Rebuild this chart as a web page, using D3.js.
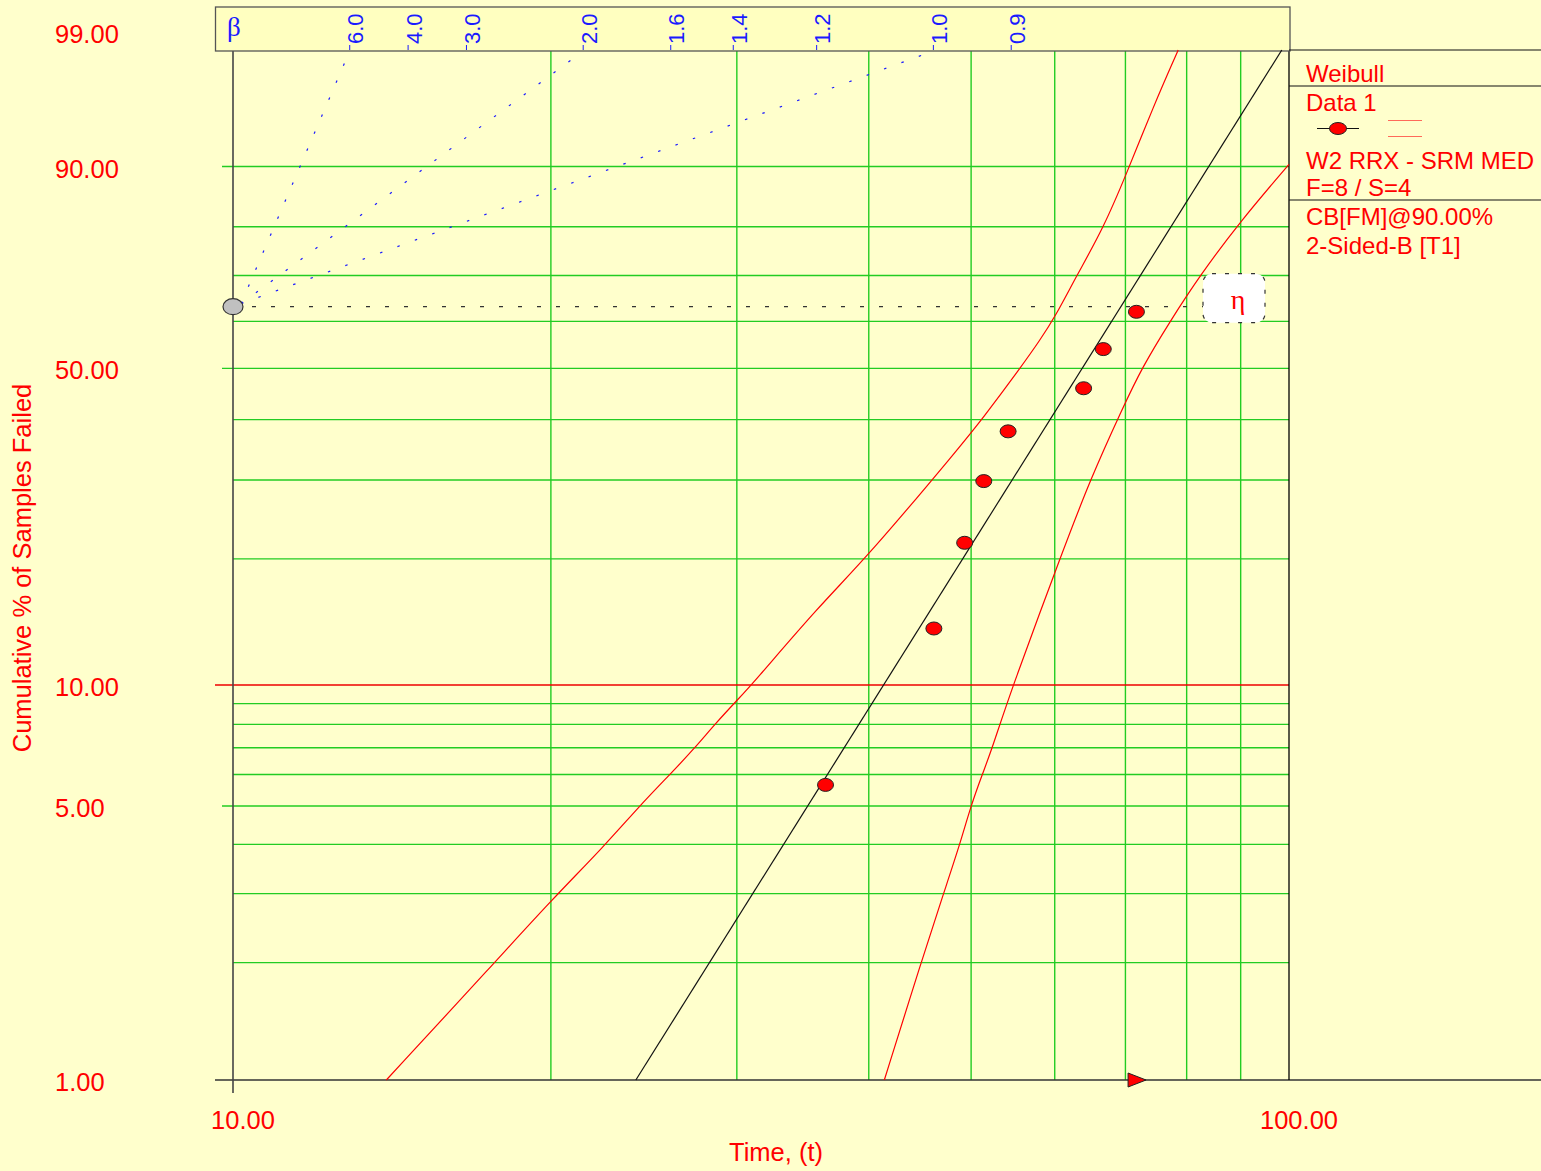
<!DOCTYPE html>
<html>
<head>
<meta charset="utf-8">
<script src="https://cdn.jsdelivr.net/npm/d3@7"></script>
<style>
  body { margin: 0; background: #ffffcc; }
  text { font-family: "Liberation Sans", Arial, sans-serif; }
</style>
</head>
<body>
<div id="weibull_plot"></div>
<script>
// data
const failureTimes = [36.4, 46.1, 49.3, 51.4, 54.2, 63.9, 66.7, 71.7];
const failurePct = [5.65, 13.71, 21.77, 29.84, 37.90, 45.97, 54.03, 62.10];
const suspensionTimes = [71.8];

const upperTimes = [13.97, 17.69, 19.98, 22.49, 24.26, 25.93, 27.35, 28.60, 30.03, 30.98, 35.88, 39.94, 48.82, 51.17, 55.64, 58.12, 60.05, 62.95, 66.70, 70.20, 74.38, 78.54];
const upperPct = [1.0, 2.0, 2.87, 3.97, 5.0, 6.0, 6.97, 8.01, 9.19, 10.0, 15.5, 20.3, 35.3, 40.0, 50.0, 56.0, 61.0, 70.0, 79.7, 89.05, 96.26, 99.0];
const lowerTimes = [41.38, 44.83, 47.08, 48.79, 49.97, 51.23, 52.38, 54.43, 60.70, 64.79, 69.68, 72.52, 77.14, 82.35, 89.87, 100];
const lowerPct = [1.0, 2.0, 3.0, 4.0, 5.0, 6.0, 7.0, 9.56, 20.06, 30.0, 42.4, 50.0, 60.0, 70.0, 80.96, 90.3];

const beta = 4.35;
const eta = 69.3;

const xTicks = [10, 100];
const xGrid = [20, 30, 40, 50, 60, 70, 80, 90];
const yTicks = [99, 90, 50, 10, 5, 1];
const yGrid = [2, 3, 4, 5, 6, 7, 8, 9, 20, 30, 40, 50, 60, 70, 80, 90];
const betaTicks = [6.0, 4.0, 3.0, 2.0, 1.6, 1.4, 1.2, 1.0, 0.9];
const betaLines = [6.0, 2.0, 1.0];

const legendTitle = ["Weibull", "Data 1"];
const legendInfo = ["W2 RRX - SRM MED", "F=8 / S=4", "CB[FM]@90.00%", "2-Sided-B [T1]"];

let config = {
  div: '#weibull_plot',
  width: 1541,
  height: 1171,
  left: 233,
  right: 1289,
  top: 50,
  bottom: 1080
};

const wb = p => Math.log(-Math.log(1 - p / 100));

const svg = d3.select(config.div).append('svg')
  .attr('width', config.width)
  .attr('height', config.height);

svg.append('rect')
  .attr('width', config.width)
  .attr('height', config.height)
  .attr('fill', '#ffffcc');

const x = d3.scaleLog().domain([10, 100]).range([config.left, config.right]);
const y = d3.scaleLinear().domain([wb(1), wb(99)]).range([config.bottom, config.top]);
const yp = p => y(wb(p));

// green grid
svg.append('g').selectAll('line')
  .data(xGrid)
  .join('line')
  .attr('x1', d => x(d)).attr('x2', d => x(d))
  .attr('y1', config.top).attr('y2', config.bottom)
  .attr('stroke', '#22cc22').attr('stroke-width', 1.4);

svg.append('g').selectAll('line')
  .data(yGrid)
  .join('line')
  .attr('x1', d => yTicks.includes(d) ? config.left - 11 : config.left)
  .attr('x2', config.right)
  .attr('y1', d => yp(d)).attr('y2', d => yp(d))
  .attr('stroke', '#22cc22').attr('stroke-width', 1.4);

// 10% line in red
svg.append('line')
  .attr('x1', config.left - 18).attr('x2', config.right)
  .attr('y1', yp(10)).attr('y2', yp(10))
  .attr('stroke', '#ee0000').attr('stroke-width', 1.3);

// frame
svg.append('line')
  .attr('x1', config.left - 18).attr('x2', config.width)
  .attr('y1', config.bottom).attr('y2', config.bottom)
  .attr('stroke', '#333').attr('stroke-width', 1.3);
svg.append('line')
  .attr('x1', config.left).attr('x2', config.left)
  .attr('y1', config.top).attr('y2', config.bottom + 13)
  .attr('stroke', '#444').attr('stroke-width', 1.6);
svg.append('line')
  .attr('x1', config.right).attr('x2', config.right)
  .attr('y1', config.top).attr('y2', config.bottom)
  .attr('stroke', '#000').attr('stroke-width', 1.3);

// beta box
svg.append('rect')
  .attr('x', 215.5).attr('y', 7)
  .attr('width', config.right - 215.5 + 1).attr('height', config.top - 7 + 1)
  .attr('fill', '#ffffc0')
  .attr('stroke', '#555').attr('stroke-width', 1.3);

svg.append('text')
  .attr('x', 227).attr('y', 36)
  .style('font-family', '"Liberation Serif", "DejaVu Serif", serif')
  .attr('font-size', 27)
  .attr('fill', '#1a1aff')
  .text('β');

const betaX = b => x(10 * Math.exp(wb(99) / b));

svg.append('g').selectAll('line')
  .data(betaTicks)
  .join('line')
  .attr('x1', d => betaX(d)).attr('x2', d => betaX(d))
  .attr('y1', config.top - 5).attr('y2', config.top)
  .attr('stroke', '#1a1aff').attr('stroke-width', 1);

svg.append('g').selectAll('text')
  .data(betaTicks)
  .join('text')
  .attr('transform', d => `translate(${betaX(d) + 13.5},44) rotate(-90)`)
  .attr('font-size', 22)
  .attr('fill', '#1a1aff')
  .text(d => d.toFixed(1));

svg.append('g').selectAll('line')
  .data(betaLines)
  .join('line')
  .attr('x1', x(10) + 8).attr('y1', y(0) - 3)
  .attr('x2', d => betaX(d)).attr('y2', config.top + 1)
  .attr('stroke', '#1a1aff').attr('stroke-width', 1.2)
  .attr('stroke-dasharray', '2.5,16');

// eta level
svg.append('line')
  .attr('x1', x(10)).attr('x2', 1276)
  .attr('y1', y(0)).attr('y2', y(0))
  .attr('stroke', '#333').attr('stroke-width', 1.2)
  .attr('stroke-dasharray', '4,15');

svg.append('ellipse')
  .attr('cx', x(10)).attr('cy', y(0))
  .attr('rx', 10).attr('ry', 8)
  .attr('fill', '#c0c0c0').attr('stroke', '#333').attr('stroke-width', 1.2);

// confidence bounds
const line = d3.line().curve(d3.curveBasis);
const upper = upperTimes.map((t, i) => [x(t), yp(upperPct[i])]);
const lower = lowerTimes.map((t, i) => [x(t), yp(lowerPct[i])]);

svg.append('path').attr('d', line(upper))
  .attr('fill', 'none').attr('stroke', '#ff0000').attr('stroke-width', 1.2);
svg.append('path').attr('d', line(lower))
  .attr('fill', 'none').attr('stroke', '#ff0000').attr('stroke-width', 1.2);

// fitted line
const fitPct = [1, 99];
svg.append('line')
  .attr('x1', x(eta * Math.pow(-Math.log(1 - fitPct[0] / 100), 1 / beta)))
  .attr('y1', yp(fitPct[0]))
  .attr('x2', x(eta * Math.pow(-Math.log(1 - fitPct[1] / 100), 1 / beta)))
  .attr('y2', yp(fitPct[1]))
  .attr('stroke', '#111').attr('stroke-width', 1.2);

// failures
svg.append('g').selectAll('ellipse')
  .data(failureTimes)
  .join('ellipse')
  .attr('cx', d => x(d))
  .attr('cy', (d, i) => yp(failurePct[i]))
  .attr('rx', 8).attr('ry', 6.5)
  .attr('fill', '#ff0000').attr('stroke', '#222').attr('stroke-width', 1);

// suspensions
svg.append('g').selectAll('path')
  .data(suspensionTimes)
  .join('path')
  .attr('d', d => `M${x(d) - 9},${config.bottom - 7}L${x(d) + 9},${config.bottom}L${x(d) - 9},${config.bottom + 7}Z`)
  .attr('fill', '#ff0000').attr('stroke', '#222').attr('stroke-width', 1);

// eta marker box
svg.append('rect')
  .attr('x', 1203).attr('y', y(0) - 33)
  .attr('width', 62).attr('height', 49)
  .attr('rx', 9)
  .attr('fill', '#ffffff')
  .attr('stroke', '#333').attr('stroke-width', 1.2)
  .attr('stroke-dasharray', '4,9');
svg.append('text')
  .attr('x', 1238).attr('y', y(0) + 2)
  .attr('text-anchor', 'middle')
  .style('font-family', '"Liberation Serif", "DejaVu Serif", serif')
  .attr('font-size', 28)
  .attr('fill', '#ff0000')
  .text('η');

// axis labels
svg.append('g').selectAll('text')
  .data(yTicks)
  .join('text')
  .attr('x', 55)
  .attr('y', d => d === 99 ? yp(d) - 7 : yp(d) + 11)
  .attr('font-size', 25.5)
  .attr('fill', '#ff0000')
  .text(d => d.toFixed(2));

svg.append('g').selectAll('text')
  .data(xTicks)
  .join('text')
  .attr('x', d => x(d) + 10)
  .attr('y', 1129)
  .attr('text-anchor', 'middle')
  .attr('font-size', 25.5)
  .attr('fill', '#ff0000')
  .text(d => d.toFixed(2));

svg.append('text')
  .attr('x', 776).attr('y', 1161)
  .attr('text-anchor', 'middle')
  .attr('font-size', 25.5)
  .attr('fill', '#ff0000')
  .text('Time, (t)');

svg.append('text')
  .attr('transform', `translate(31,568) rotate(-90)`)
  .attr('text-anchor', 'middle')
  .attr('font-size', 25.5)
  .attr('fill', '#ff0000')
  .text('Cumulative % of Samples Failed');

// legend
const legendLines = [config.top, 86, 200];
svg.append('g').selectAll('line')
  .data(legendLines)
  .join('line')
  .attr('x1', config.right).attr('x2', config.width)
  .attr('y1', d => d).attr('y2', d => d)
  .attr('stroke', '#111').attr('stroke-width', 1.2);

svg.append('g').selectAll('text')
  .data(legendTitle)
  .join('text')
  .attr('x', 1306)
  .attr('y', (d, i) => 82 + i * 29)
  .attr('font-size', 24)
  .attr('fill', '#ff0000')
  .text(d => d);

svg.append('line')
  .attr('x1', 1317).attr('x2', 1359)
  .attr('y1', 128.5).attr('y2', 128.5)
  .attr('stroke', '#111').attr('stroke-width', 1);
svg.append('ellipse')
  .attr('cx', 1338).attr('cy', 128.5)
  .attr('rx', 8.5).attr('ry', 6)
  .attr('fill', '#ff0000').attr('stroke', '#222').attr('stroke-width', 1);
svg.append('g').selectAll('line')
  .data([120.5, 136.5])
  .join('line')
  .attr('x1', 1388).attr('x2', 1422)
  .attr('y1', d => d).attr('y2', d => d)
  .attr('stroke', '#ff6a5a').attr('stroke-width', 1.2);

svg.append('g').selectAll('text')
  .data(legendInfo)
  .join('text')
  .attr('x', 1306)
  .attr('y', (d, i) => [168.5, 196, 225, 253.5][i])
  .attr('font-size', 24)
  .attr('fill', '#ff0000')
  .text(d => d);
</script>
</body>
</html>
